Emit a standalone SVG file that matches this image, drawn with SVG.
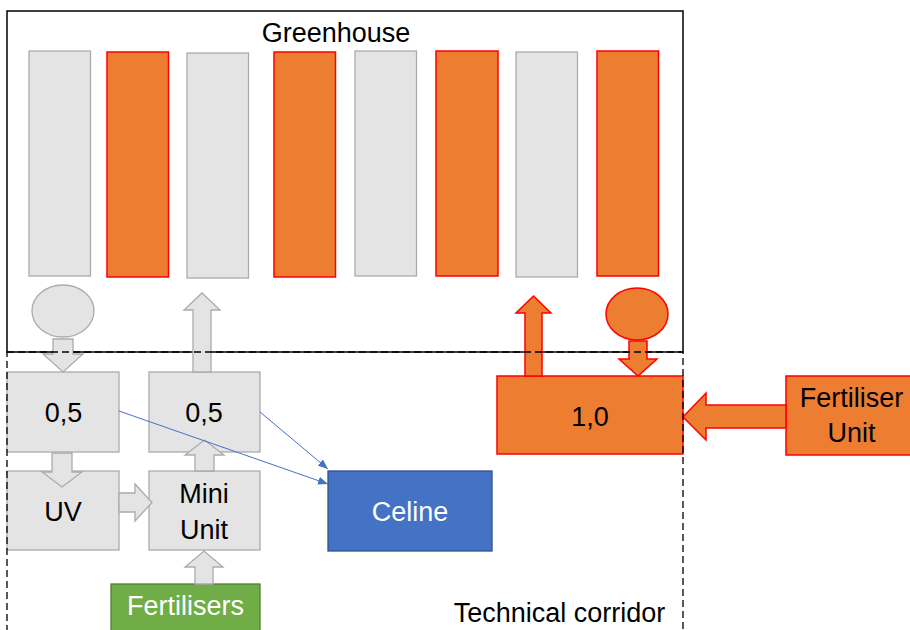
<svg xmlns="http://www.w3.org/2000/svg" width="910" height="630" viewBox="0 0 910 630">
<defs>
<style>
.gray{fill:#E4E4E4;stroke:#ABABAB;stroke-width:1.3}
.org{fill:#ED7D31;stroke:#FF0000;stroke-width:1.5}
.t{font-family:"Liberation Sans",Arial,sans-serif;font-size:27px;fill:#000;text-anchor:middle}
.w{fill:#FFFFFF}
.blue{stroke:#4472C4;stroke-width:1;fill:none}
</style>
<marker id="ah" markerWidth="10" markerHeight="8" refX="10" refY="4" orient="auto" markerUnits="userSpaceOnUse">
<path d="M0,0 L10,4 L0,8 Z" fill="#4472C4"/>
</marker>
</defs>
<rect width="910" height="630" fill="#FFFFFF"/>

<g id="greenhouse">
<rect x="7" y="11" width="676" height="341" fill="none" stroke="#000" stroke-width="1.5"/>
<text class="t" x="336" y="42" font-size="28">Greenhouse</text>
</g>

<g id="beds">
<rect class="gray" x="29" y="51" width="61.5" height="225"/>
<rect class="org" x="107" y="52" width="61.5" height="225"/>
<rect class="gray" x="187" y="53" width="61.5" height="225"/>
<rect class="org" x="274" y="52" width="61.5" height="225"/>
<rect class="gray" x="355" y="51" width="61.5" height="225"/>
<rect class="org" x="436" y="51" width="62" height="225"/>
<rect class="gray" x="516" y="52" width="61.5" height="225"/>
<rect class="org" x="597" y="51" width="61.5" height="225"/>
</g>

<g id="drain-gray"><ellipse class="gray" cx="63" cy="311" rx="31" ry="26"/></g>
<g id="drain-orange"><ellipse class="org" cx="637" cy="314" rx="31" ry="26"/></g>

<g id="tank-left">
<rect class="gray" x="7" y="372" width="112" height="80"/>
<text class="t" x="63.5" y="422">0,5</text>
</g>
<g id="tank-right">
<rect class="gray" x="149" y="372" width="111" height="80"/>
<text class="t" x="204" y="422">0,5</text>
</g>
<g id="uv">
<rect class="gray" x="7" y="471" width="112" height="79"/>
<text class="t" x="63" y="521">UV</text>
</g>
<g id="mini-unit">
<rect class="gray" x="149" y="471" width="111" height="79"/>
<text class="t" x="204" y="503">Mini</text>
<text class="t" x="204" y="539">Unit</text>
</g>
<g id="fertilisers">
<rect x="111" y="584" width="149" height="60" fill="#70AD47" stroke="#507E32" stroke-width="1.3"/>
<text class="t w" x="185.5" y="615">Fertilisers</text>
</g>
<g id="celine">
<rect x="328" y="471" width="164" height="80" fill="#4472C4" stroke="#2F528F" stroke-width="1.3"/>
<text class="t w" x="410" y="521">Celine</text>
</g>
<g id="tank-main">
<rect class="org" x="497" y="376" width="186" height="78"/>
<text class="t" x="590" y="426">1,0</text>
</g>
<g id="fertiliser-unit">
<rect class="org" x="786" y="376" width="130" height="79"/>
<text class="t" x="851.5" y="407">Fertiliser</text>
<text class="t" x="851.5" y="442">Unit</text>
</g>

<g id="connectors">
<polygon class="gray" points="53,339 73,339 73,354 83,354 63,372 43,354 53,354"/>
<polygon class="gray" points="52,453 72,453 72,472 82,472 62,487 42,472 52,472"/>
<polygon class="gray" points="119,493 135,493 135,484 152,502.5 135,521 135,512 119,512"/>
<polygon class="gray" points="195,471 195,455 185,455 204.5,440 224,455 214,455 214,471"/>
<polygon class="gray" points="193,372 193,310 184,310 202,293 220,310 211,310 211,372"/>
<polygon class="gray" points="195,584 195,567 185,567 204,551 223,567 213,567 213,584"/>
<polygon class="org" points="525,376 525,313 516,313 533.5,296 551,313 542,313 542,376"/>
<polygon class="org" points="629,341 647,341 647,359 657,359 638,376 619,359 629,359"/>
<polygon class="org" points="786,405 706,405 706,393 683,417 706,440 706,428 786,428"/>
<line class="blue" x1="260" y1="412" x2="328" y2="469" marker-end="url(#ah)"/>
<line class="blue" x1="119" y1="411" x2="328" y2="484" marker-end="url(#ah)"/>
</g>

<g id="technical-corridor">
<rect x="7" y="352" width="676" height="300" fill="none" stroke="#000" stroke-width="1.3" stroke-dasharray="7 4"/>
<text class="t" x="559.5" y="622" font-size="28">Technical corridor</text>
</g>
</svg>
